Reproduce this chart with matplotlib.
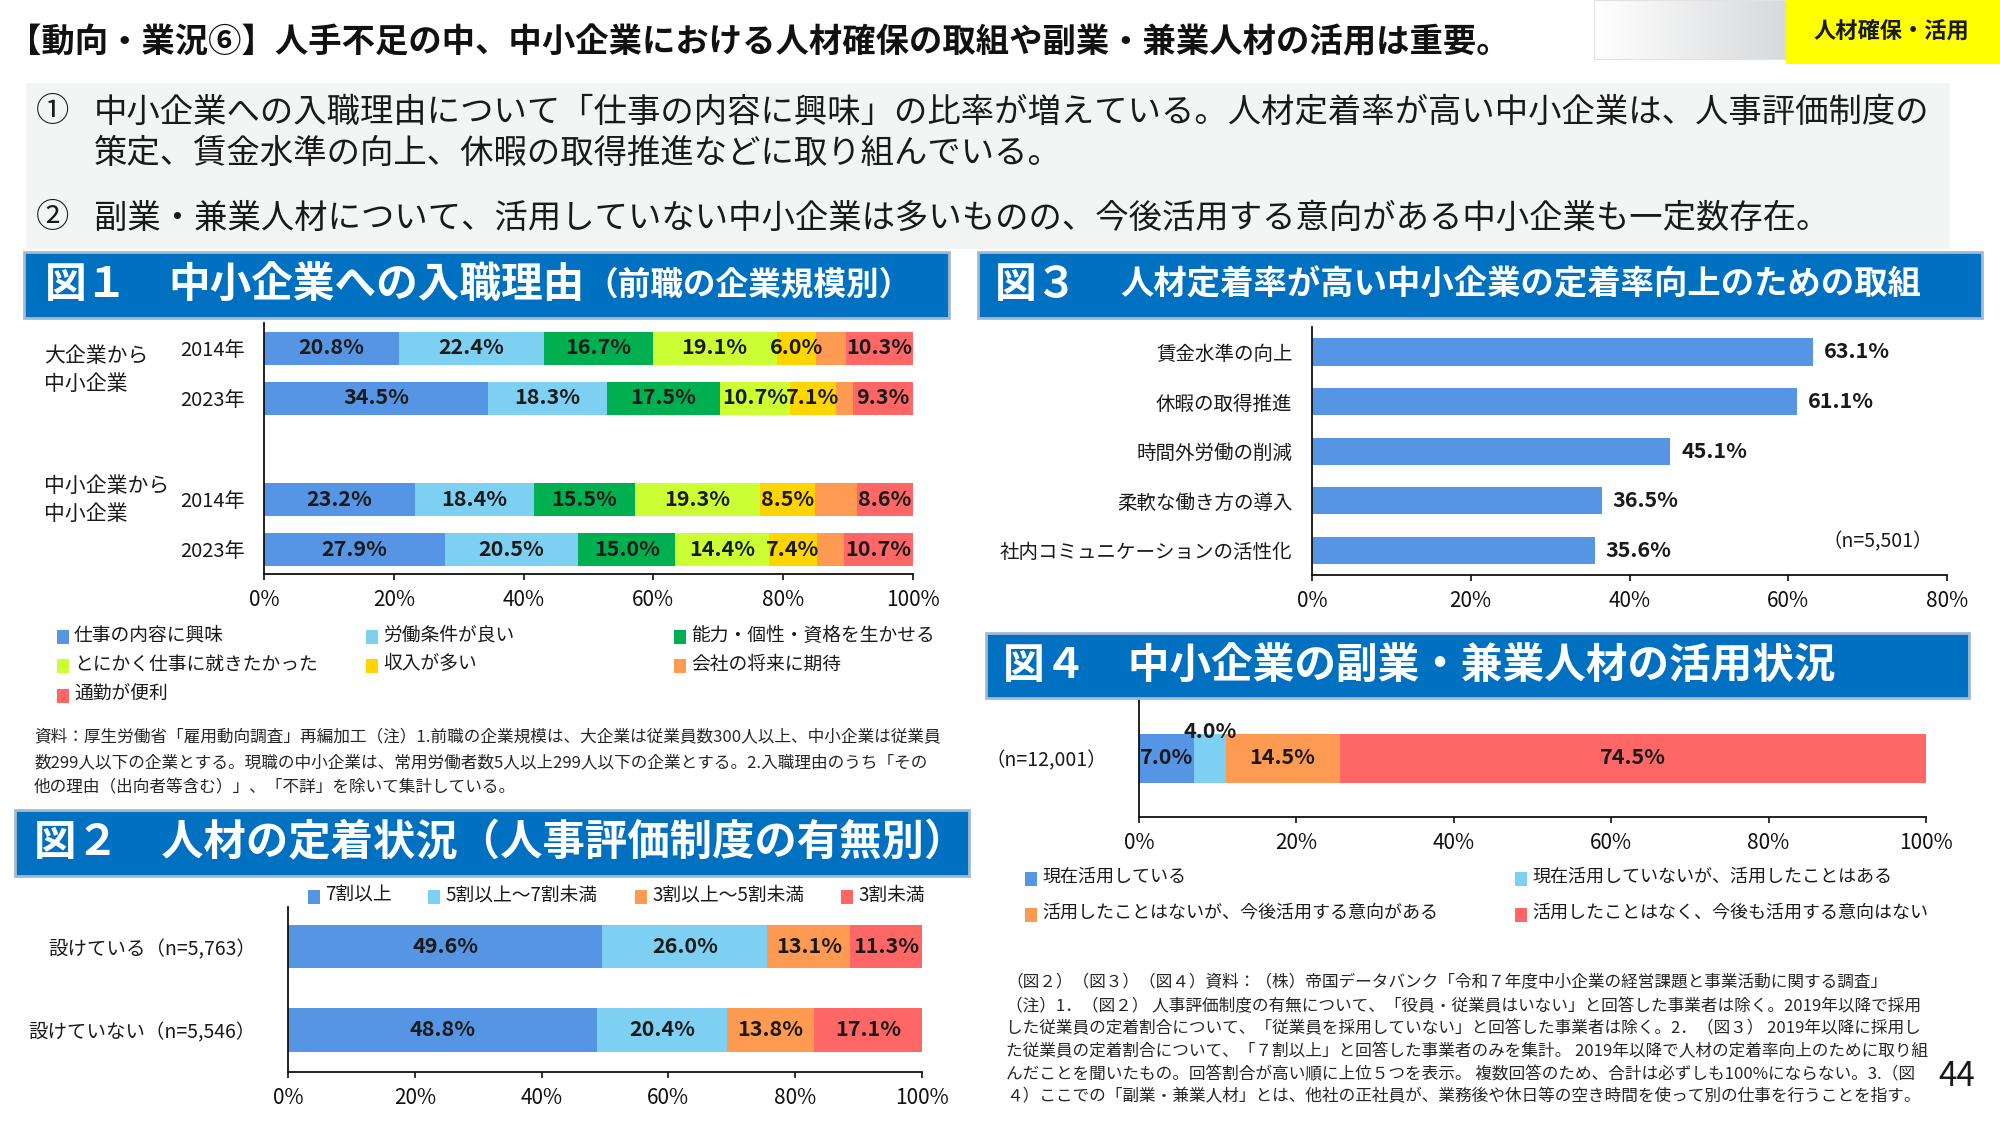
import numpy as np
import matplotlib.pyplot as plt
from matplotlib.patches import Rectangle
from matplotlib.colors import LinearSegmentedColormap

plt.rcParams['font.family'] = ['Noto Sans CJK JP', 'DejaVu Sans']
plt.rcParams['text.color'] = '#1a1a1a'

# ---- data ----
fig1_groups = ['大企業から\n中小企業', '中小企業から\n中小企業']
fig1_years = ['2014年', '2023年', '2014年', '2023年']
fig1_reasons = ['仕事の内容に興味', '労働条件が良い', '能力・個性・資格を生かせる',
                'とにかく仕事に就きたかった', '収入が多い', '会社の将来に期待', '通勤が便利']
fig1_large_2014 = [20.8, 22.4, 16.7, 19.1, 6.0, 4.7, 10.3]
fig1_large_2023 = [34.5, 18.3, 17.5, 10.7, 7.1, 2.6, 9.3]
fig1_small_2014 = [23.2, 18.4, 15.5, 19.3, 8.5, 6.5, 8.6]
fig1_small_2023 = [27.9, 20.5, 15.0, 14.4, 7.4, 4.1, 10.7]
fig1_labelled = [True, True, True, True, True, False, True]

fig2_rows = ['設けている（n=5,763）', '設けていない（n=5,546）']
fig2_levels = ['7割以上', '5割以上～7割未満', '3割以上～5割未満', '3割未満']
fig2_with = [49.6, 26.0, 13.1, 11.3]
fig2_without = [48.8, 20.4, 13.8, 17.1]

fig3_items = ['賃金水準の向上', '休暇の取得推進', '時間外労働の削減',
              '柔軟な働き方の導入', '社内コミュニケーションの活性化']
fig3_values = [63.1, 61.1, 45.1, 36.5, 35.6]

fig4_row = ['（n=12,001）']
fig4_status = ['現在活用している', '現在活用していないが、活用したことはある',
               '活用したことはないが、今後活用する意向がある', '活用したことはなく、今後も活用する意向はない']
fig4_values = [7.0, 4.0, 14.5, 74.5]

# colours
c_blue = '#5595E4'
c_lblue = '#7DD0F2'
c_green = '#00B050'
c_lime = '#CCFF33'
c_yellow = '#FFD500'
c_orange = '#FF9A52'
c_red = '#FF6666'
fig1_colors = [c_blue, c_lblue, c_green, c_lime, c_yellow, c_orange, c_red]
fig2_colors = [c_blue, c_lblue, c_orange, c_red]
fig4_colors = [c_blue, c_lblue, c_orange, c_red]
head_blue = '#0070C0'

W, H = 2000, 1125
fig = plt.figure(figsize=(20, 11.25), dpi=100)
fig.patch.set_facecolor('white')


def fx(x):
    return x / W


def fy(y):
    return 1 - y / H


def add_ax(l, t, r, b):
    return fig.add_axes([fx(l), fy(b), (r - l) / W, (b - t) / H])


def rect(l, t, r, b, **kw):
    fig.patches.append(Rectangle((fx(l), fy(b)), (r - l) / W, (b - t) / H,
                                 transform=fig.transFigure, **kw))


def style(ax, xmax, ypad):
    ax.set_xlim(0, xmax)
    ticks = np.arange(0, xmax + 1, 20)
    ax.set_xticks(ticks)
    ax.set_xticklabels([f'{t}%' for t in ticks])
    for s in ['top', 'right']:
        ax.spines[s].set_visible(False)
    for s in ['left', 'bottom']:
        ax.spines[s].set_linewidth(1.3)
        ax.spines[s].set_color('#111111')
    ax.tick_params(axis='x', length=4.5, width=1.2, labelsize=15, pad=6, colors='#111111')
    ax.tick_params(axis='y', length=0, labelsize=14, pad=ypad, colors='#1a1a1a')
    ax.patch.set_alpha(0)


def header(l, t, r, b, parts):
    rect(l, t, r, b, facecolor=head_blue, edgecolor='#A3B9CF', linewidth=2)
    yc = (t + b) / 2
    for x, s, size in parts:
        fig.text(fx(x), fy(yc), s, color='white', fontsize=size, fontweight='bold',
                 va='center', ha='left')


def legend_item(x, y, color, label, size=13.5):
    rect(x, y - 5, x + 12, y + 9, facecolor=color, edgecolor='none')
    fig.text(fx(x + 17), fy(y), label, fontsize=size, va='center', ha='left')


# ---- top area ----
fig.text(fx(8), fy(43), '【動向・業況⑥】人手不足の中、中小企業における人材確保の取組や副業・兼業人材の活用は重要。',
         fontsize=24, fontweight='bold', va='center', ha='left', color='#111111')

gax = add_ax(1594, 0, 1786, 59)
gax.imshow(np.linspace(0, 1, 256)[None, :], aspect='auto',
           cmap=LinearSegmentedColormap.from_list('g', ['#ffffff', '#d8d9db']))
gax.set_xticks([])
gax.set_yticks([])
for s in gax.spines.values():
    s.set_color('#e2e2e2')
rect(1786, 0, 2000, 64, facecolor='#FFFF00', edgecolor='none')
fig.text(fx(1891), fy(31), '人材確保・活用', fontsize=16, fontweight='bold', va='center', ha='center')

rect(26, 83, 1950, 249, facecolor='#F3F5F5', edgecolor='none')
fig.text(fx(36), fy(112), '①', fontsize=24, va='center', ha='left')
fig.text(fx(94), fy(112), '中小企業への入職理由について「仕事の内容に興味」の比率が増えている。人材定着率が高い中小企業は、人事評価制度の',
         fontsize=24, va='center', ha='left')
fig.text(fx(94), fy(153), '策定、賃金水準の向上、休暇の取得推進などに取り組んでいる。',
         fontsize=24, va='center', ha='left')
fig.text(fx(36), fy(218), '②', fontsize=24, va='center', ha='left')
fig.text(fx(94), fy(218), '副業・兼業人材について、活用していない中小企業は多いものの、今後活用する意向がある中小企業も一定数存在。',
         fontsize=24, va='center', ha='left')

# ---- headers ----
header(24, 252, 949, 318, [(45, '図１', 30), (168, '中小企業への入職理由', 30), (585, '（前職の企業規模別）', 23.5)])
header(978, 252, 1982, 318, [(995, '図３', 30), (1120, '人材定着率が高い中小企業の定着率向上のための取組', 24)])
header(15, 810, 969, 876, [(34, '図２　人材の定着状況（人事評価制度の有無別）', 30.5)])
header(986, 633, 1969, 698, [(1003, '図４　中小企業の副業・兼業人材の活用状況', 30)])

# ---- figure 1 ----
ax1 = add_ax(264, 323, 913, 574)
pos1 = [0, 1, 3.02, 4.02]
vals1 = np.array([fig1_large_2014, fig1_large_2023, fig1_small_2014, fig1_small_2023])
left = np.zeros(len(pos1))
for j, name in enumerate(fig1_reasons):
    ax1.barh(pos1, vals1[:, j], left=left, height=0.66, color=fig1_colors[j], label=name)
    if fig1_labelled[j]:
        for i in range(len(pos1)):
            ax1.text(left[i] + vals1[i, j] / 2, pos1[i], f'{vals1[i, j]:.1f}%',
                     ha='center', va='center', fontsize=15.5, fontweight='bold')
    left += vals1[:, j]
ax1.set_ylim(4.52, -0.5)
ax1.set_yticks(pos1)
ax1.set_yticklabels(fig1_years)
style(ax1, 100, 14)
ax1.tick_params(axis='y', labelsize=14.5)
fig.text(fx(44), fy(370), fig1_groups[0], fontsize=15, va='center', ha='left', linespacing=1.35)
fig.text(fx(44), fy(500), fig1_groups[1], fontsize=15, va='center', ha='left', linespacing=1.35)

leg1_x = [57, 366, 674]
leg1_y = [635, 664, 694]
for k, name in enumerate(fig1_reasons):
    r, c = divmod(k, 3)
    legend_item(leg1_x[c], leg1_y[r], fig1_colors[k], name)

note1 = ['資料：厚生労働省「雇用動向調査」再編加工（注）1.前職の企業規模は、大企業は従業員数300人以上、中小企業は従業員',
         '数299人以下の企業とする。現職の中小企業は、常用労働者数5人以上299人以下の企業とする。2.入職理由のうち「その',
         '他の理由（出向者等含む）」、「不詳」を除いて集計している。']
for i, line in enumerate(note1):
    fig.text(fx(34), fy(738 + 25 * i), line, fontsize=12, va='center', ha='left', color='#262626')

# ---- figure 2 ----
ax2 = add_ax(288, 907, 922, 1072)
pos2 = [0, 1]
vals2 = np.array([fig2_with, fig2_without])
left = np.zeros(2)
for j, name in enumerate(fig2_levels):
    ax2.barh(pos2, vals2[:, j], left=left, height=0.52, color=fig2_colors[j], label=name)
    for i in range(2):
        ax2.text(left[i] + vals2[i, j] / 2, pos2[i], f'{vals2[i, j]:.1f}%',
                 ha='center', va='center', fontsize=15.5, fontweight='bold')
    left += vals2[:, j]
ax2.set_ylim(1.506, -0.48)
ax2.set_yticks(pos2)
ax2.set_yticklabels(fig2_rows)
style(ax2, 100, 23)

leg2_x = [308, 428, 635, 841]
for k, name in enumerate(fig2_levels):
    legend_item(leg2_x[k], 895, fig2_colors[k], name)

# ---- figure 3 ----
ax3 = add_ax(1312, 327, 1947, 575)
pos3 = np.arange(len(fig3_items))
ax3.barh(pos3, fig3_values, height=0.545, color=c_blue)
for i, v in enumerate(fig3_values):
    ax3.annotate(f'{v:.1f}%', (v, pos3[i]), xytext=(8, 0), textcoords='offset points',
                 ha='left', va='center', fontsize=15.5, fontweight='bold')
ax3.set_ylim(4.496, -0.504)
ax3.set_yticks(pos3)
ax3.set_yticklabels(fig3_items)
style(ax3, 80, 14)
fig.text(fx(1822), fy(542), '（n=5,501）', fontsize=14, va='center', ha='left')

# ---- figure 4 ----
ax4 = add_ax(1139, 700, 1926, 817)
left = 0.0
for j, v in enumerate(fig4_values):
    ax4.barh([0], [v], left=left, height=0.49, color=fig4_colors[j], label=fig4_status[j])
    if j == 1:
        ax4.text(left + v / 2, -0.26, f'{v:.1f}%', ha='center', va='center',
                 fontsize=15.5, fontweight='bold')
    else:
        ax4.text(left + v / 2, 0, f'{v:.1f}%', ha='center', va='center',
                 fontsize=15.5, fontweight='bold')
    left += v
ax4.set_ylim(0.59, -0.58)
ax4.set_yticks([0])
ax4.set_yticklabels(fig4_row)
style(ax4, 100, 23)

leg4_x = [1025, 1515]
leg4_y = [877, 913]
for k, name in enumerate(fig4_status):
    r, c = divmod(k, 2)
    legend_item(leg4_x[c], leg4_y[r], fig4_colors[k], name, size=13)

note2 = ['（図２）（図３）（図４）資料：（株）帝国データバンク「令和７年度中小企業の経営課題と事業活動に関する調査」',
         '（注）1．（図２） 人事評価制度の有無について、「役員・従業員はいない」と回答した事業者は除く。2019年以降で採用',
         'した従業員の定着割合について、「従業員を採用していない」と回答した事業者は除く。2．（図３） 2019年以降に採用し',
         'た従業員の定着割合について、「７割以上」と回答した事業者のみを集計。 2019年以降で人材の定着率向上のために取り組',
         'んだことを聞いたもの。回答割合が高い順に上位５つを表示。 複数回答のため、合計は必ずしも100%にならない。3.（図',
         '４）ここでの「副業・兼業人材」とは、他社の正社員が、業務後や休日等の空き時間を使って別の仕事を行うことを指す。']
note2_y = [983, 1007, 1029, 1052, 1075, 1097]
for y, line in zip(note2_y, note2):
    fig.text(fx(1006), fy(y), line, fontsize=12, va='center', ha='left', color='#262626')

fig.text(fx(1957), fy(1076), '44', fontsize=24, va='center', ha='center')

fig.savefig('out.png', dpi=100)
